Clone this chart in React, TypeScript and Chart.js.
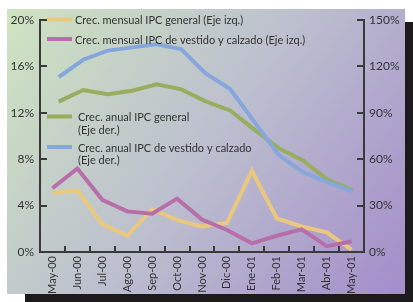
import React, { useEffect, useRef } from "react";
import { Chart, registerables } from "chart.js";

Chart.register(...registerables);

const months = ["May-00", "Jun-00", "Jul-00", "Ago-00", "Sep-00", "Oct-00", "Nov-00", "Dic-00", "Ene-01", "Feb-01", "Mar-01", "Abr-01", "May-01"];
const mensualGeneral = [5.1, 5.3, 2.4, 1.4, 3.7, 2.75, 2.2, 2.5, 7.0, 2.9, 2.2, 1.7, 0.2];
const mensualVestido = [5.5, 7.2, 4.5, 3.5, 3.3, 4.6, 2.8, 1.9, 0.75, 1.4, 1.95, 0.5, 0.9];
const anualGeneral = [97.2, 104.7, 102, 104.3, 108.4, 105.2, 97.4, 91.5, 79, 67, 59, 46.5, 40];
const anualVestido = [113, 124.3, 130.2, 132.3, 134.3, 131.2, 115.5, 105.4, 84, 62.5, 51.5, 45, 39];

const leftMax = 20;
const leftStep = 4;
const rightMax = 150;
const rightStep = 30;

const legendLabels = [
  ["Crec. mensual IPC general (Eje izq.)"],
  ["Crec. mensual IPC de vestido y calzado (Eje izq.)"],
  ["Crec. anual IPC general", "(Eje der.)"],
  ["Crec. anual IPC de vestido y calzado", "(Eje der.)"],
];

const YELLOW = "#eac97e";
const PURPLE = "#b86fa9";
const GREEN = "#97ae5f";
const BLUE = "#86a7de";
const AXIS = "#3a3a3a";
const TEXT = "#333333";
const FONT = "Lato";

const bgPlugin = {
  id: "panelBg",
  beforeDraw(chart: any) {
    const { ctx, width, height } = chart;
    ctx.save();
    ctx.fillStyle = "#ffffff";
    ctx.fillRect(0, 0, width, height);
    ctx.fillStyle = "#1d1a1c";
    ctx.fillRect(405, 22, 8, 280);
    ctx.fillRect(25, 294, 388, 8);
    const g = ctx.createLinearGradient(7, 9, 405, 294);
    g.addColorStop(0, "#cfe4c0");
    g.addColorStop(0.5, "#bcbfcf");
    g.addColorStop(1, "#a48dca");
    ctx.fillStyle = g;
    ctx.fillRect(7, 9, 398, 285);
    ctx.restore();
  },
};

const ticksPlugin = {
  id: "innerTicks",
  beforeDatasetsDraw(chart: any) {
    const { ctx, chartArea: a, scales } = chart;
    ctx.save();
    ctx.strokeStyle = AXIS;
    ctx.lineWidth = 2;
    ctx.beginPath();
    scales.y.ticks.forEach((t: any) => {
      if (t.value === 0) return;
      const py = Math.round(scales.y.getPixelForValue(t.value));
      ctx.moveTo(a.left, py);
      ctx.lineTo(a.left + 7, py);
    });
    scales.y2.ticks.forEach((t: any) => {
      if (t.value === 0) return;
      const py = Math.round(scales.y2.getPixelForValue(t.value));
      ctx.moveTo(a.right - 7, py);
      ctx.lineTo(a.right, py);
    });
    for (let i = 1; i < months.length; i++) {
      const px = Math.round((scales.x.getPixelForValue(i - 1) + scales.x.getPixelForValue(i)) / 2);
      ctx.moveTo(px, a.bottom);
      ctx.lineTo(px, a.bottom - 6);
    }
    ctx.stroke();
    ctx.restore();
  },
};

const legendPlugin = {
  id: "customLegend",
  afterDatasetsDraw(chart: any) {
    const { ctx, chartArea: a } = chart;
    const colors = [YELLOW, PURPLE, GREEN, BLUE];
    const ys = [19.5, 39, 116.5, 147];
    const textX = [35, 35, 38, 38];
    ctx.save();
    ctx.font = `11px ${FONT}`;
    ctx.textBaseline = "middle";
    ctx.textAlign = "left";
    legendLabels.forEach((lines, i) => {
      const y = ys[i];
      ctx.strokeStyle = colors[i];
      ctx.lineWidth = 4;
      ctx.beginPath();
      ctx.moveTo(a.left + 7, y);
      ctx.lineTo(a.left + 32, y);
      ctx.stroke();
      ctx.fillStyle = TEXT;
      lines.forEach((ln, j) => {
        ctx.fillText(ln, a.left + textX[i], y + 1 + j * 12.5);
      });
    });
    ctx.restore();
  },
};

export default function App() {
  const ref = useRef<HTMLCanvasElement | null>(null);
  useEffect(() => {
    if (!ref.current) return;
    const chart = new Chart(ref.current, {
      type: "line",
      data: {
        labels: months,
        datasets: [
          {
            label: "Crec. mensual IPC de vestido y calzado (Eje izq.)",
            data: mensualVestido,
            borderColor: PURPLE,
            xAxisID: "x",
            yAxisID: "y",
          },
          {
            label: "Crec. mensual IPC general (Eje izq.)",
            data: mensualGeneral,
            borderColor: YELLOW,
            xAxisID: "x",
            yAxisID: "y",
          },
          {
            label: "Crec. anual IPC de vestido y calzado (Eje der.)",
            data: anualVestido.map((v, i) => ({ x: i, y: v })),
            borderColor: BLUE,
            xAxisID: "x2",
            yAxisID: "y2",
          },
          {
            label: "Crec. anual IPC general (Eje der.)",
            data: anualGeneral.map((v, i) => ({ x: i, y: v })),
            borderColor: GREEN,
            xAxisID: "x2",
            yAxisID: "y2",
          },
        ] as any,
      },
      options: {
        animation: false,
        responsive: false,
        devicePixelRatio: 1,
        layout: { padding: { top: 20, left: 0, right: 0, bottom: 0 } },
        elements: {
          line: { borderWidth: 4, tension: 0, fill: false },
          point: { radius: 0, hoverRadius: 0 },
        },
        plugins: { legend: { display: false }, tooltip: { enabled: false }, title: { display: false } },
        scales: {
          x: {
            type: "category",
            offset: true,
            grid: { display: true, drawOnChartArea: false, drawTicks: false, offset: true },
            border: { display: true, color: AXIS, width: 2 },
            ticks: {
              autoSkip: false,
              maxRotation: 90,
              minRotation: 90,
              padding: 4,
              color: TEXT,
              font: { family: FONT, size: 11 },
            },
            afterFit(s: any) {
              s.height = 50;
            },
          },
          x2: {
            type: "linear",
            display: false,
            min: -0.765,
            max: 12.47,
          },
          y: {
            position: "left",
            min: 0,
            max: leftMax,
            grid: { display: true, drawOnChartArea: false, drawTicks: false },
            border: { display: true, color: AXIS, width: 2 },
            ticks: {
              stepSize: leftStep,
              padding: 6,
              color: TEXT,
              font: { family: FONT, size: 12 },
              callback: (v: any) => `${v}%`,
            },
            afterFit(s: any) {
              s.width = 40;
            },
          },
          y2: {
            position: "right",
            min: 0,
            max: rightMax,
            grid: { display: true, drawOnChartArea: false, drawTicks: false },
            border: { display: true, color: AXIS, width: 2 },
            ticks: {
              stepSize: rightStep,
              padding: 5,
              color: TEXT,
              font: { family: FONT, size: 12 },
              callback: (v: any) => `${v}%`,
            },
            afterFit(s: any) {
              s.width = 49;
            },
          },
        },
      } as any,
      plugins: [bgPlugin, ticksPlugin, legendPlugin],
    });
    return () => chart.destroy();
  }, []);
  return (
    <div style={{ position: "fixed", left: 0, top: 0, width: 413, height: 302 }}>
      <canvas ref={ref} width={413} height={302} style={{ display: "block", width: 413, height: 302 }} />
    </div>
  );
}
